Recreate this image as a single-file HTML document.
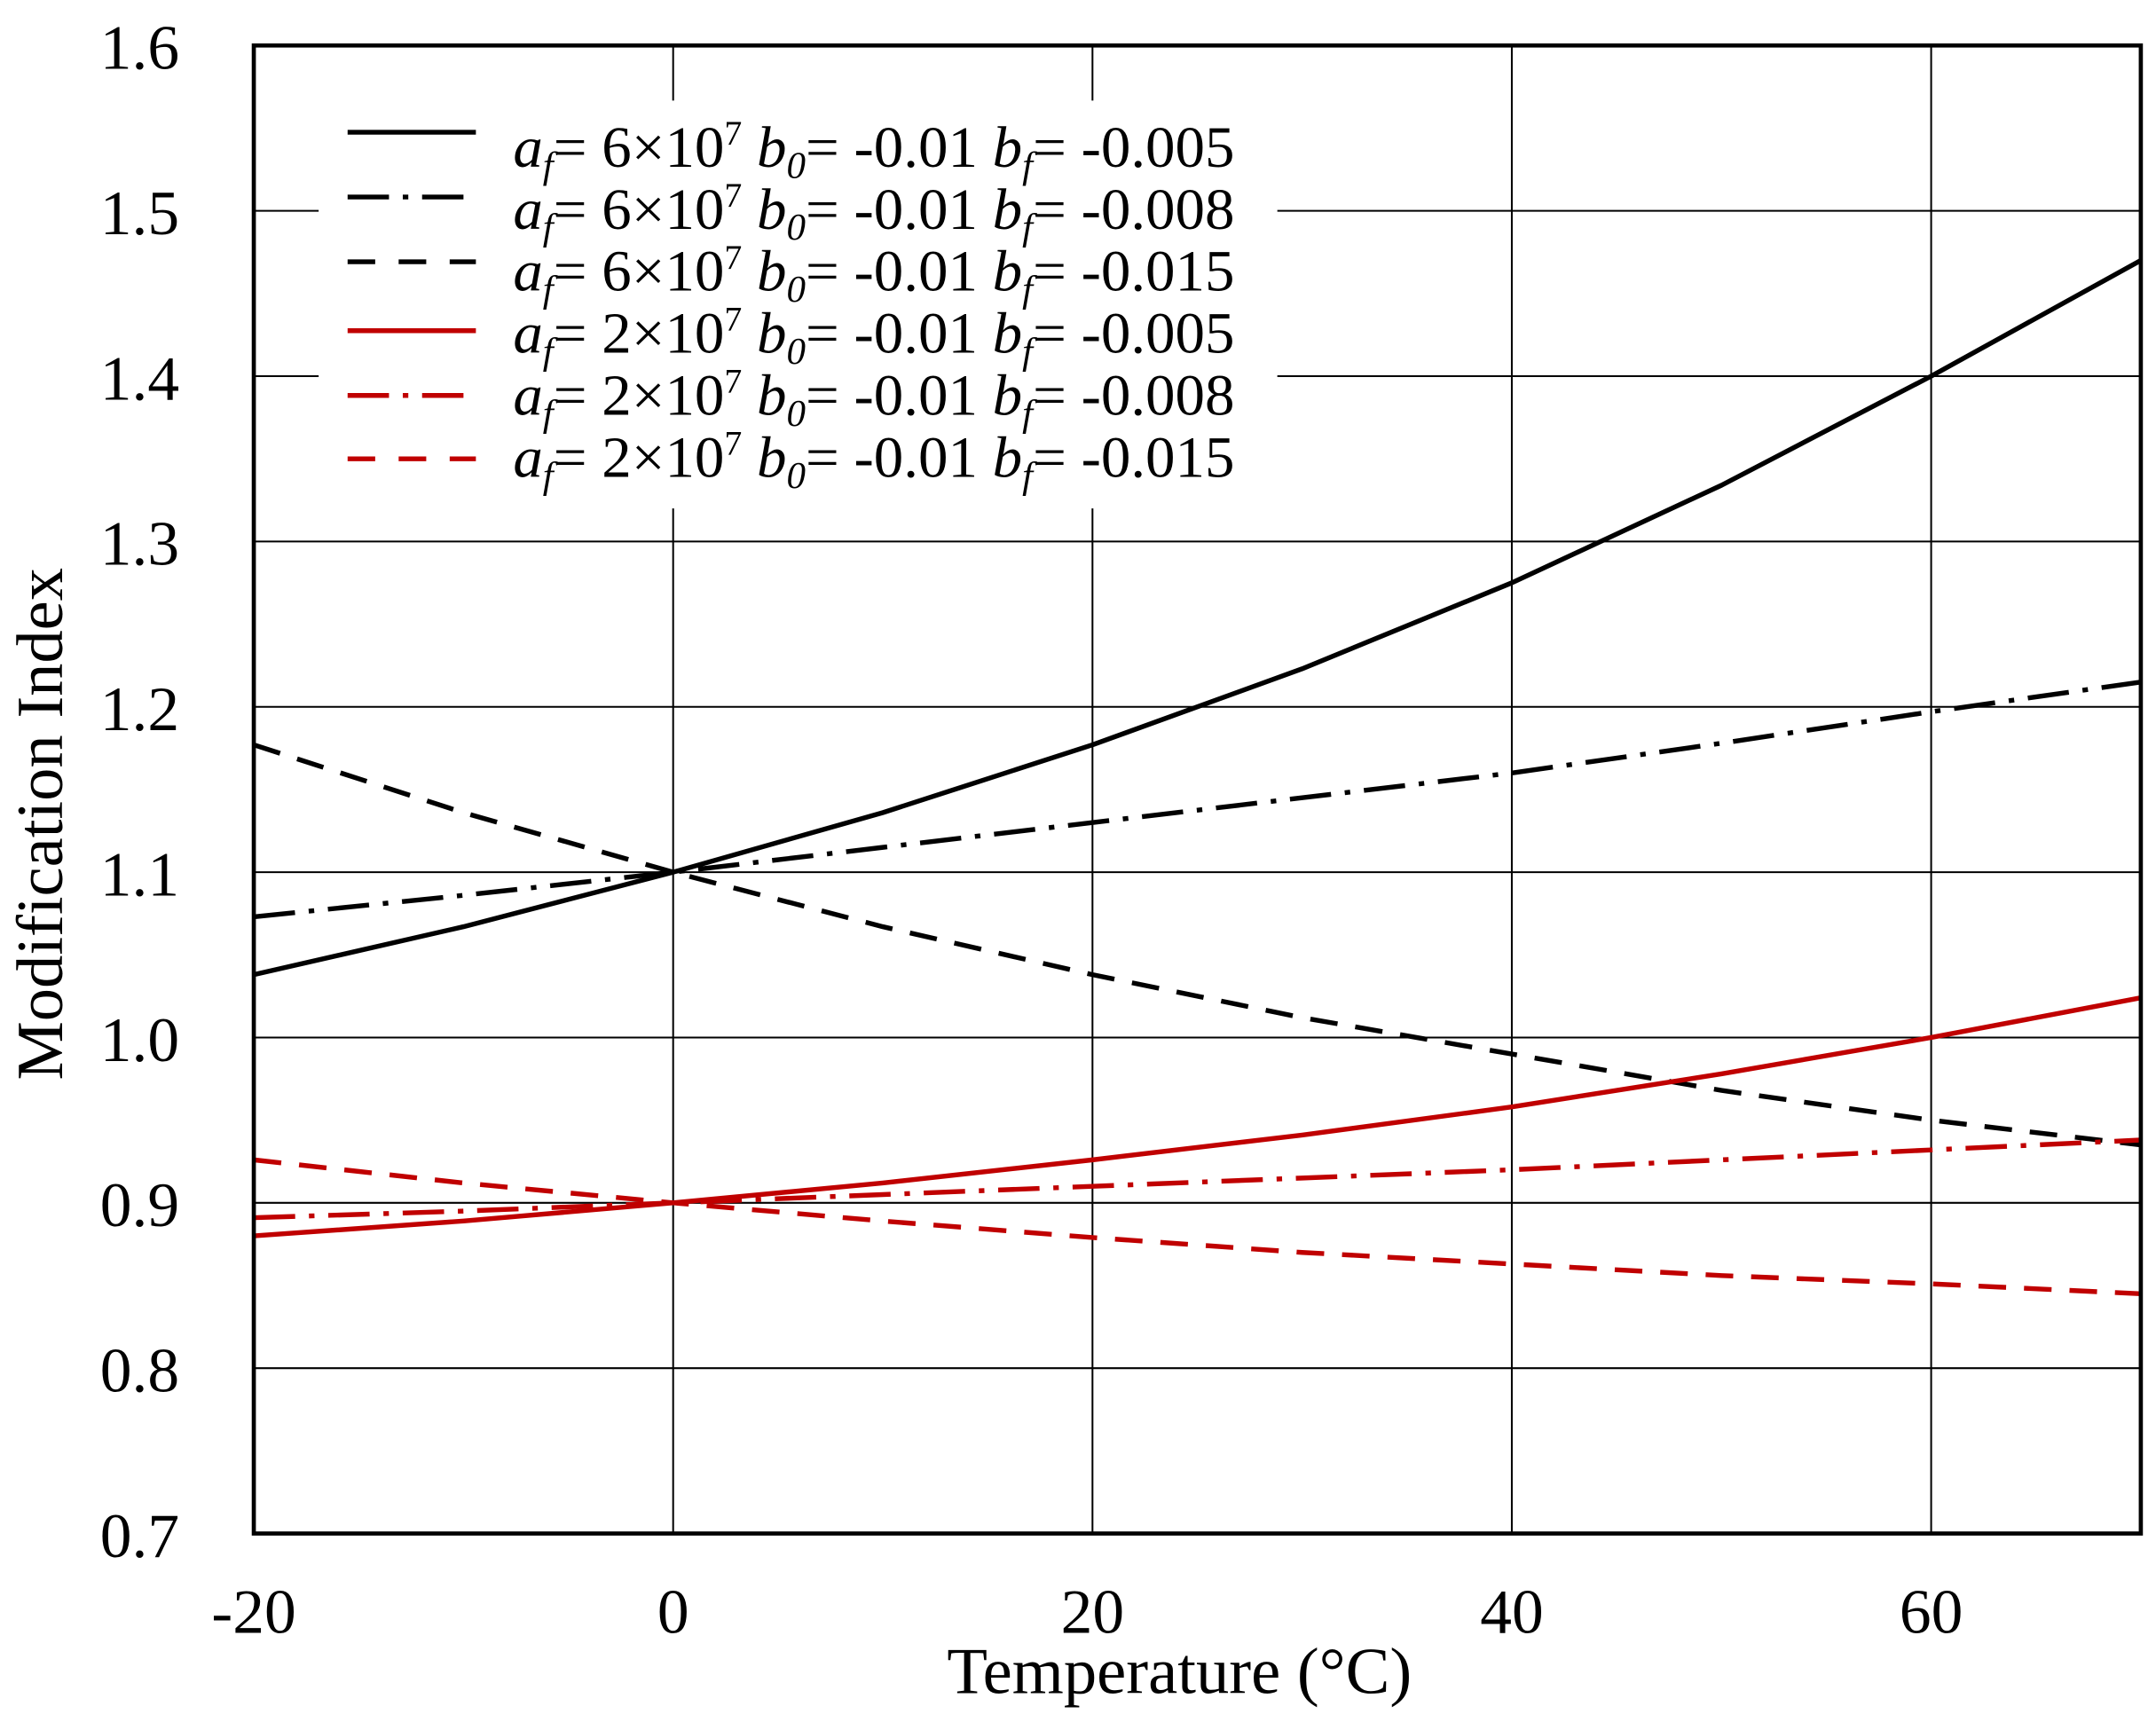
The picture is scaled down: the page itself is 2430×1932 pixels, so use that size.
<!DOCTYPE html>
<html><head><style>html,body{margin:0;padding:0;background:#fff}svg{display:block}</style></head>
<body>
<svg width="2430" height="1932" viewBox="0 0 1563 1244" preserveAspectRatio="none" xmlns="http://www.w3.org/2000/svg" font-family="'Liberation Serif', serif">
<rect width="1563" height="1244" fill="#fff"/>
<g stroke="#000" stroke-width="1.3">
<line x1="488" y1="33" x2="488" y2="1113"/><line x1="792" y1="33" x2="792" y2="1113"/>
<line x1="1096" y1="33" x2="1096" y2="1113"/><line x1="1400" y1="33" x2="1400" y2="1113"/>
<line x1="184" y1="153" x2="1552" y2="153"/><line x1="184" y1="273" x2="1552" y2="273"/>
<line x1="184" y1="393" x2="1552" y2="393"/><line x1="184" y1="513" x2="1552" y2="513"/>
<line x1="184" y1="633" x2="1552" y2="633"/><line x1="184" y1="753" x2="1552" y2="753"/>
<line x1="184" y1="873" x2="1552" y2="873"/><line x1="184" y1="993" x2="1552" y2="993"/>
</g>
<rect x="231" y="73" width="695" height="296" fill="#fff"/>
<g fill="none" stroke-width="3.5" stroke-linejoin="round">
<polyline stroke="#000" points="184,707.4 336,672.6 488,633 640,589.8 792,540.6 944,485.4 1096,423 1248,352.2 1400,273 1552,189"/>
<polyline stroke="#000" stroke-dasharray="30 10 4 10" points="184,665.4 336,649.8 488,633 640,615 792,597 944,579 1096,561 1248,539.4 1400,516.6 1552,495"/>
<polyline stroke="#000" stroke-dasharray="20 13" points="184,540.6 336,589.8 488,633 640,672.6 792,707.4 944,738.6 1096,765 1248,791.4 1400,813 1552,831"/>
<polyline stroke="#c00000" points="184,897 336,886.2 488,873 640,858.6 792,841.8 944,823.8 1096,803.4 1248,779.4 1400,753 1552,724.2"/>
<polyline stroke="#c00000" stroke-dasharray="30 10 4 10" points="184,883.8 336,879 488,873 640,867 792,861 944,855 1096,849 1248,841.8 1400,834.6 1552,827.4"/>
<polyline stroke="#c00000" stroke-dasharray="20 13" points="184,841.8 336,858.6 488,873 640,886.2 792,898.2 944,909 1096,917.4 1248,925.8 1400,931.8 1552,939"/>
<line x1="252" y1="96" x2="345" y2="96" stroke="#000"/>
<line x1="252" y1="143" x2="345" y2="143" stroke="#000" stroke-dasharray="30 10 4 10"/>
<line x1="252" y1="190" x2="345" y2="190" stroke="#000" stroke-dasharray="20 17"/>
<line x1="252" y1="240" x2="345" y2="240" stroke="#c00000"/>
<line x1="252" y1="287" x2="345" y2="287" stroke="#c00000" stroke-dasharray="30 10 4 10"/>
<line x1="252" y1="333" x2="345" y2="333" stroke="#c00000" stroke-dasharray="20 17"/>
</g>
<rect x="184" y="33" width="1368" height="1080" fill="none" stroke="#000" stroke-width="3"/>
<g font-size="42" fill="#000">
<text x="372" y="121" textLength="523" lengthAdjust="spacingAndGlyphs"><tspan font-style="italic">a</tspan><tspan font-style="italic" font-size="27" dy="8">f</tspan><tspan dy="-8">= 6×10</tspan><tspan font-size="25" dy="-16">7</tspan><tspan dy="16"> </tspan><tspan font-style="italic">b</tspan><tspan font-style="italic" font-size="27" dy="8">0</tspan><tspan dy="-8">= -0.01 </tspan><tspan font-style="italic">b</tspan><tspan font-style="italic" font-size="27" dy="8">f</tspan><tspan dy="-8">= -0.005</tspan></text>
<text x="372" y="166" textLength="523" lengthAdjust="spacingAndGlyphs"><tspan font-style="italic">a</tspan><tspan font-style="italic" font-size="27" dy="8">f</tspan><tspan dy="-8">= 6×10</tspan><tspan font-size="25" dy="-16">7</tspan><tspan dy="16"> </tspan><tspan font-style="italic">b</tspan><tspan font-style="italic" font-size="27" dy="8">0</tspan><tspan dy="-8">= -0.01 </tspan><tspan font-style="italic">b</tspan><tspan font-style="italic" font-size="27" dy="8">f</tspan><tspan dy="-8">= -0.008</tspan></text>
<text x="372" y="211" textLength="523" lengthAdjust="spacingAndGlyphs"><tspan font-style="italic">a</tspan><tspan font-style="italic" font-size="27" dy="8">f</tspan><tspan dy="-8">= 6×10</tspan><tspan font-size="25" dy="-16">7</tspan><tspan dy="16"> </tspan><tspan font-style="italic">b</tspan><tspan font-style="italic" font-size="27" dy="8">0</tspan><tspan dy="-8">= -0.01 </tspan><tspan font-style="italic">b</tspan><tspan font-style="italic" font-size="27" dy="8">f</tspan><tspan dy="-8">= -0.015</tspan></text>
<text x="372" y="256" textLength="523" lengthAdjust="spacingAndGlyphs"><tspan font-style="italic">a</tspan><tspan font-style="italic" font-size="27" dy="8">f</tspan><tspan dy="-8">= 2×10</tspan><tspan font-size="25" dy="-16">7</tspan><tspan dy="16"> </tspan><tspan font-style="italic">b</tspan><tspan font-style="italic" font-size="27" dy="8">0</tspan><tspan dy="-8">= -0.01 </tspan><tspan font-style="italic">b</tspan><tspan font-style="italic" font-size="27" dy="8">f</tspan><tspan dy="-8">= -0.005</tspan></text>
<text x="372" y="301" textLength="523" lengthAdjust="spacingAndGlyphs"><tspan font-style="italic">a</tspan><tspan font-style="italic" font-size="27" dy="8">f</tspan><tspan dy="-8">= 2×10</tspan><tspan font-size="25" dy="-16">7</tspan><tspan dy="16"> </tspan><tspan font-style="italic">b</tspan><tspan font-style="italic" font-size="27" dy="8">0</tspan><tspan dy="-8">= -0.01 </tspan><tspan font-style="italic">b</tspan><tspan font-style="italic" font-size="27" dy="8">f</tspan><tspan dy="-8">= -0.008</tspan></text>
<text x="372" y="346" textLength="523" lengthAdjust="spacingAndGlyphs"><tspan font-style="italic">a</tspan><tspan font-style="italic" font-size="27" dy="8">f</tspan><tspan dy="-8">= 2×10</tspan><tspan font-size="25" dy="-16">7</tspan><tspan dy="16"> </tspan><tspan font-style="italic">b</tspan><tspan font-style="italic" font-size="27" dy="8">0</tspan><tspan dy="-8">= -0.01 </tspan><tspan font-style="italic">b</tspan><tspan font-style="italic" font-size="27" dy="8">f</tspan><tspan dy="-8">= -0.015</tspan></text>
</g>
<g font-size="46" fill="#000" text-anchor="end">
<text x="130" y="50">1.6</text><text x="130" y="170">1.5</text><text x="130" y="290">1.4</text>
<text x="130" y="410">1.3</text><text x="130" y="530">1.2</text><text x="130" y="650">1.1</text>
<text x="130" y="770">1.0</text><text x="130" y="890">0.9</text><text x="130" y="1010">0.8</text>
<text x="130" y="1130">0.7</text>
</g>
<g font-size="46" fill="#000" text-anchor="middle">
<text x="184" y="1185">-20</text><text x="488" y="1185">0</text><text x="792" y="1185">20</text>
<text x="1096" y="1185">40</text><text x="1400" y="1185">60</text>
<text x="855" y="1229" font-size="48">Temperature (°C)</text>
<text transform="translate(45,598) rotate(-90)" font-size="48">Modification Index</text>
</g>
</svg>
</body></html>
